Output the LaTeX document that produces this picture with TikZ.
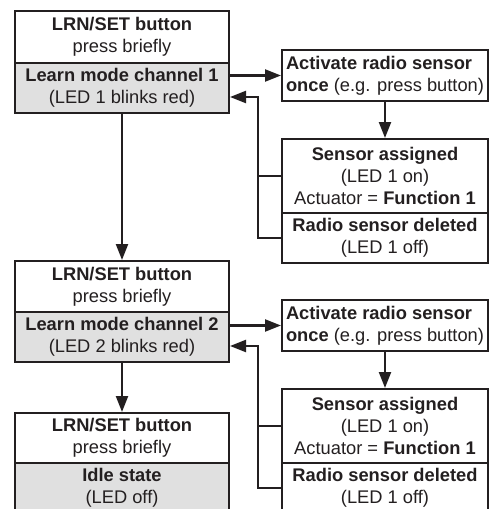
\documentclass[tikz,border=0pt]{standalone}
\usepackage{fontspec}
\setmainfont{Liberation Sans}
\usetikzlibrary{arrows.meta}
\definecolor{ink}{HTML}{231F20}
\definecolor{shade}{HTML}{E0E0E0}
\tikzset{
  box/.style={draw=ink, line width=2pt, text=ink, inner sep=0pt, anchor=north west,
    align=center, font=\fontsize{18.3}{22}\selectfont},
  grey/.style={box, fill=shade},
  conn/.style={draw=ink, line width=2.2pt},
  arr/.style={conn, -{Triangle[length=16pt,width=12pt]}},
}
\begin{document}
\begin{tikzpicture}[x=1pt,y=-1pt]
\useasboundingbox (0,0) rectangle (491,509);
\clip (0,0) rectangle (491,509);
\fill[white] (0,0) rectangle (491,509);

% left column
\node[box, minimum width=214pt, minimum height=52pt] (a1) at (14,10) {\textbf{LRN/SET button}\\press briefly};
\node[grey, minimum width=214pt, minimum height=50pt] (a2) at (14,62) {\textbf{Learn mode channel 1}\\(LED 1 blinks red)};
\node[box, minimum width=214pt, minimum height=51pt] (b1) at (14,260) {\textbf{LRN/SET button}\\press briefly};
\node[grey, minimum width=214pt, minimum height=50pt] (b2) at (14,311) {\textbf{Learn mode channel 2}\\(LED 2 blinks red)};
\node[box, minimum width=214pt, minimum height=50pt] (c1) at (14,412) {\textbf{LRN/SET button}\\press briefly};
\node[grey, minimum width=214pt, minimum height=50pt] (c2) at (14,462) {\textbf{Idle state}\\(LED off)};

% right column, group 1
\node[box, align=left, minimum width=206pt, minimum height=51pt] (r1a) at (281,49) {\textbf{Activate radio sensor}\\\textbf{once} (e.g. press button)};
\node[box, minimum width=206pt, minimum height=74pt] (r1b) at (281,138) {\textbf{Sensor assigned}\\(LED 1 on)\\Actuator = \textbf{Function 1}};
\node[box, minimum width=206pt, minimum height=50pt] (r1c) at (281,212) {\textbf{Radio sensor deleted}\\(LED 1 off)};

% right column, group 2
\node[box, align=left, minimum width=206pt, minimum height=51pt] (r2a) at (281,299) {\textbf{Activate radio sensor}\\\textbf{once} (e.g. press button)};
\node[box, minimum width=206pt, minimum height=74pt] (r2b) at (281,388) {\textbf{Sensor assigned}\\(LED 1 on)\\Actuator = \textbf{Function 1}};
\node[box, minimum width=206pt, minimum height=50pt] (r2c) at (281,462) {\textbf{Radio sensor deleted}\\(LED 1 off)};

\coordinate (k1) at (258,97);
\coordinate (k2) at (258,346);

% connectors
\draw[arr] (a2.south) -- (b1.north);
\draw[arr] (b2.south) -- (c1.north);

\draw[arr] (a2.east |- r1a.west) -- (r1a.west);
\draw[arr] (r1a.south) -- (r1b.north);
\draw[conn] (r1c.west) -- (r1c.west -| k1) -- (r1b.west -| k1);
\draw[arr] (r1b.west) -| (k1) -- (a2.east |- k1);

\draw[arr] (b2.east |- r2a.west) -- (r2a.west);
\draw[arr] (r2a.south) -- (r2b.north);
\draw[conn] (r2c.west) -- (r2c.west -| k2) -- (r2b.west -| k2);
\draw[arr] (r2b.west) -| (k2) -- (b2.east |- k2);
\end{tikzpicture}
\end{document}
